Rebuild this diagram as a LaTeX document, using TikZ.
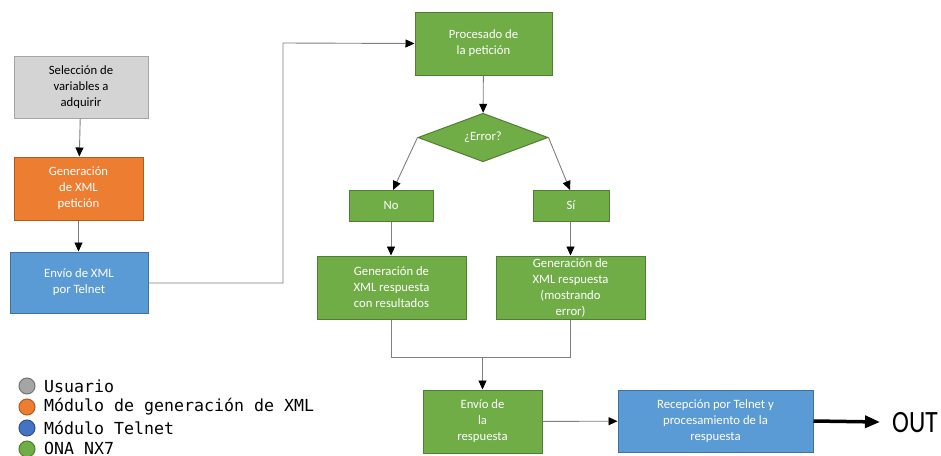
\documentclass[tikz,border=0pt]{standalone}
\usepackage{fontspec}
\setmainfont{Carlito}
\newfontfamily\legfont{DejaVu Sans Mono}
\usetikzlibrary{shapes.geometric,arrows.meta}
\definecolor{gfill}{HTML}{70AD47}
\definecolor{gdraw}{HTML}{507E32}
\definecolor{ofill}{HTML}{ED7D31}
\definecolor{odraw}{HTML}{AE5A21}
\definecolor{bfill}{HTML}{5B9BD5}
\definecolor{bdraw}{HTML}{41719C}
\definecolor{yfill}{HTML}{D4D4D4}
\definecolor{ydraw}{HTML}{A5A5A5}
\definecolor{lblue}{HTML}{4472C4}
\definecolor{conn}{HTML}{7F7F7F}
\tikzset{
  box/.style={rectangle, draw, line width=1pt, align=center, inner sep=2pt,
    font=\fontsize{12.7}{16}\selectfont, text=white},
  grn/.style={box, fill=gfill, draw=gdraw},
  org/.style={box, fill=ofill, draw=odraw},
  blu/.style={box, fill=bfill, draw=bdraw},
  gry/.style={box, fill=yfill, draw=ydraw, text=black},
  conline/.style={draw=conn, line width=0.9pt, -{Triangle[length=9pt,width=8pt,color=black]}},
  plainline/.style={draw=conn, line width=0.9pt},
  legdot/.style={circle, minimum size=16pt, inner sep=0pt, line width=1pt},
  legtxt/.style={anchor=west, font=\legfont\fontsize{16.6}{18}\selectfont, inner sep=0pt}
}
\begin{document}
\begin{tikzpicture}[x=1pt,y=-1pt]
\useasboundingbox (0,0) rectangle (941,455);

\node[gry, minimum width=134pt, minimum height=62pt] (sel) at (81,87) {Selección de\\variables a\\adquirir};
\node[org, minimum width=129pt, minimum height=63pt] (gen) at (78.5,188.5) {Generación\\de XML\\petición};
\node[blu, minimum width=138pt, minimum height=61pt] (env) at (79,282.5) {Envío de XML\\por Telnet};
\node[grn, minimum width=137pt, minimum height=63pt] (proc) at (483.5,43.5) {Procesado de\\la petición};
\node[diamond, draw=gdraw, fill=gfill, line width=1pt, minimum width=130pt, minimum height=45pt, inner sep=0pt, text=white, font=\fontsize{12.7}{16}\selectfont] (err) at (483,137.5) {¿Error?};
\node[grn, minimum width=84pt, minimum height=31pt] (no) at (391,205.5) {No};
\node[grn, minimum width=76pt, minimum height=31pt] (si) at (571,205.5) {Sí};
\node[grn, minimum width=149pt, minimum height=63pt] (gr1) at (391.5,287.5) {Generación de\\XML respuesta\\con resultados};
\node[grn, minimum width=149pt, minimum height=63pt] (gr2) at (570.5,287.5) {Generación de\\XML respuesta\\(mostrando\\error)};
\node[grn, minimum width=119pt, minimum height=63pt] (envr) at (482.5,421.5) {Envío de\\la\\respuesta};
\node[blu, minimum width=195pt, minimum height=62pt] (rec) at (715.5,421) {Recepción por Telnet y\\procesamiento de la\\respuesta};
\node[anchor=west, inner sep=0pt, font=\fontsize{31}{31}\selectfont, xscale=0.82] (out) at (892,423) {OUT};

\coordinate (c1) at (283,283);
\coordinate (c2) at (283,43);
\coordinate (j1) at (391.5,357);
\coordinate (j2) at (570.5,357);
\coordinate (jm) at (482.5,357);

\draw[conline] (sel) -- (gen);
\draw[conline] (gen) -- (env.north -| gen.south);
\draw[conline] (env.east |- c1) -- (c1) -- (c2) -- (proc.west);
\draw[conline] (proc) -- (err);
\draw[conline] (err.west) -- (393,190);
\draw[conline] (err.east) -- (570,190);
\draw[conline] (no) -- (no.south |- gr1.north);
\draw[conline] (si.south -| gr2) -- (gr2);
\draw[plainline] (gr1) -- (j1) -- (j2) -- (gr2);
\draw[conline] (jm) -- (envr);
\draw[conline] (envr) -- (rec);
\draw[line width=3.5pt, -{Triangle[length=15pt,width=12pt]}] (rec.east) -- (880,422);

\node[legdot, fill=ydraw, draw=ydraw!70!black] (d1) at (27,386) {};
\node[legdot, fill=ofill, draw=odraw] (d2) at (27,407) {};
\node[legdot, fill=lblue, draw=lblue!70!black] (d3) at (27,428) {};
\node[legdot, fill=gfill, draw=gdraw] (d4) at (27,449) {};
\node[legtxt] (t1) at (44,386) {Usuario};
\node[legtxt] (t2) at (44,407) {Módulo de generación de XML};
\node[legtxt] (t3) at (44,428) {Módulo Telnet};
\node[legtxt] (t4) at (44,448) {ONA NX7};
\end{tikzpicture}
\end{document}
